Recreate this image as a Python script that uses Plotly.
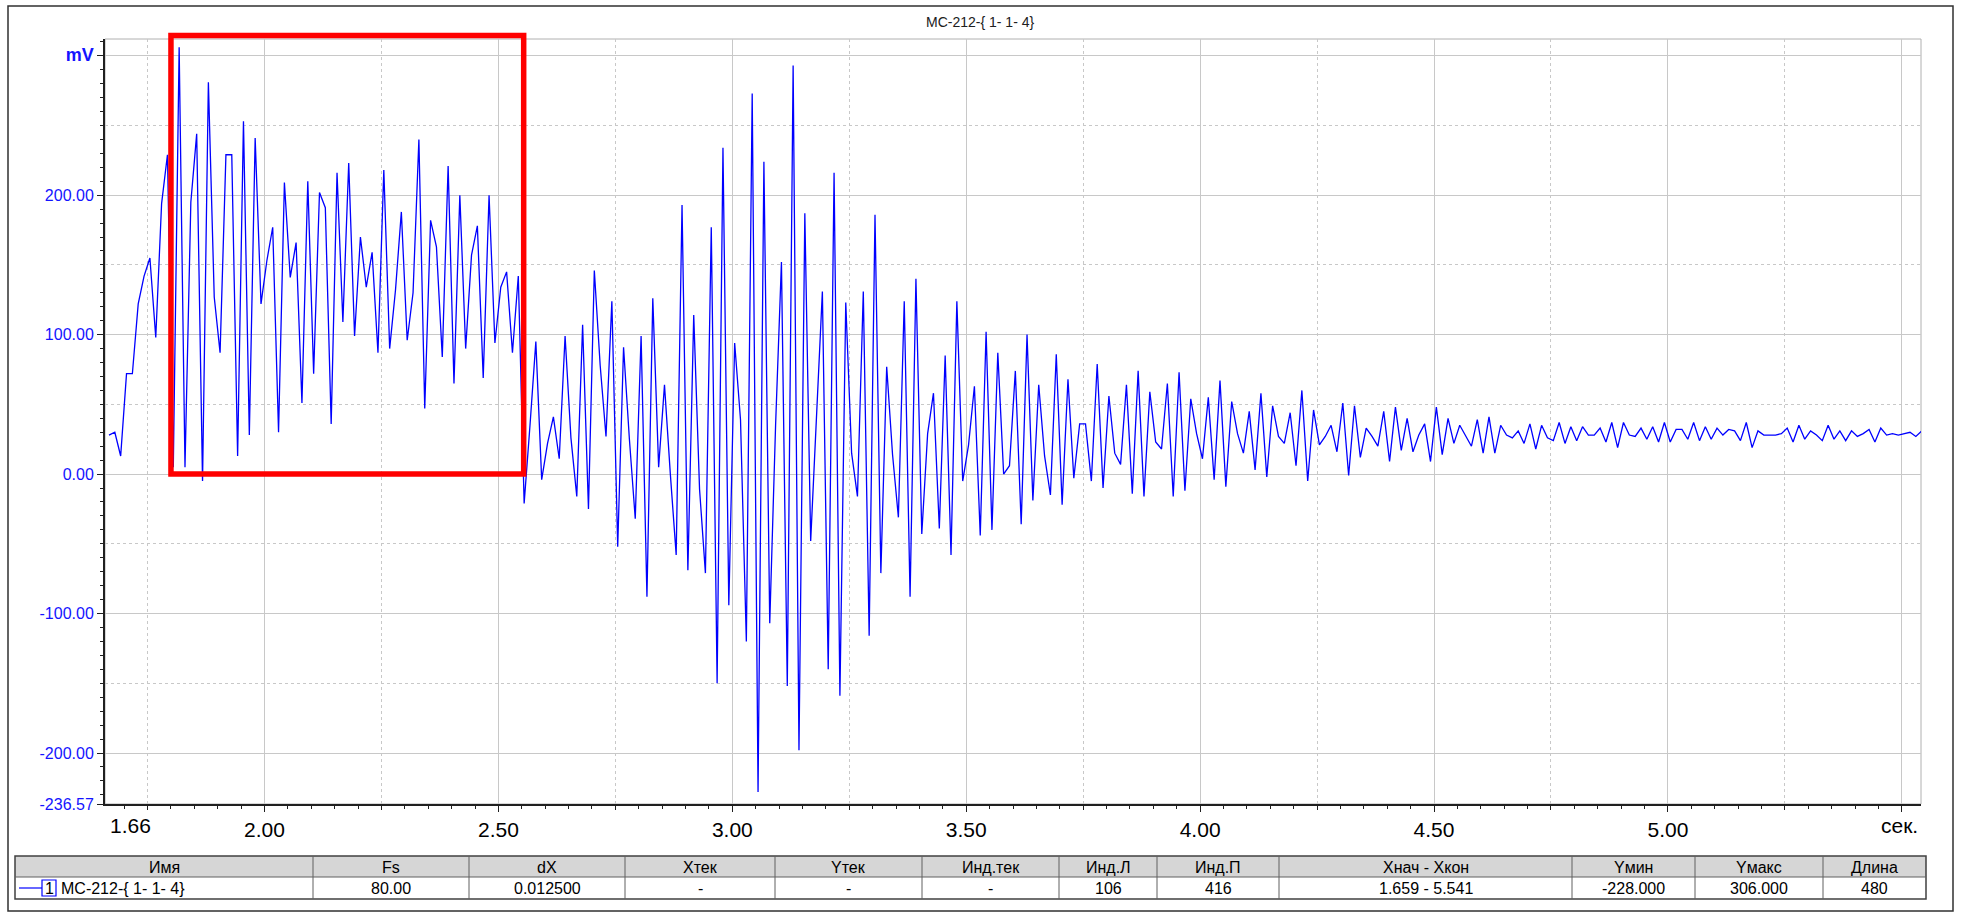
import plotly.graph_objects as go

# ---------------- data ----------------
title_text = "МС-212-{ 1- 1- 4}"
sample_rate_hz = 80.0
sample_step_s = 0.0125
first_sample_s = 1.6675

signal_mv = [
    28, 30, 13, 72, 72, 122, 142, 155, 98, 194,
    229, 5, 306, 5, 195, 244, -5, 281, 127, 87,
    229, 229, 13, 253, 28, 241, 122, 153, 177, 30,
    209, 141, 166, 51, 210, 72, 202, 191, 36, 216,
    109, 223, 99, 170, 134, 159, 87, 218, 90, 132,
    188, 96, 130, 240, 47, 182, 163, 84, 221, 65,
    200, 90, 157, 178, 69, 200, 94, 134, 145, 87,
    142, -21, 35, 95, -4, 22, 41, 11, 99, 26,
    -16, 107, -25, 146, 78, 27, 124, -52, 91, 25,
    -32, 99, -88, 126, 5, 64, 0, -58, 193, -69,
    114, -11, -71, 177, -150, 234, -94, 94, 39, -120,
    273, -228, 224, -107, 35, 152, -152, 293, -198, 187,
    -48, 42, 131, -140, 216, -159, 123, 15, -16, 131,
    -116, 186, -71, 77, 14, -31, 124, -88, 140, -43,
    29, 58, -39, 85, -58, 124, -5, 21, 63, -44,
    102, -40, 87, 0, 6, 74, -36, 100, -19, 64,
    13, -15, 86, -22, 68, -3, 36, 36, -5, 79,
    -10, 56, 15, 7, 64, -14, 74, -16, 59, 23,
    18, 65, -16, 73, -12, 54, 29, 11, 55, -4,
    67, -9, 52, 29, 15, 45, 3, 58, -2, 49,
    27, 22, 44, 6, 60, -5, 46, 21, 27, 35,
    16, 51, -1, 49, 12, 33, 27, 20, 45, 9,
    48, 17, 40, 16, 28, 36, 9, 48, 14, 40,
    22, 35, 27, 20, 39, 15, 41, 15, 35, 28,
    26, 31, 22, 36, 18, 35, 26, 24, 37, 22,
    34, 24, 34, 28, 28, 33, 23, 37, 19, 37,
    28, 27, 33, 25, 34, 23, 37, 23, 32, 32,
    25, 37, 24, 34, 25, 33, 28, 32, 31, 24,
    37, 19, 31, 28, 28, 28, 29, 33, 23, 35,
    25, 31, 28, 24, 35, 25, 31, 24, 31, 27,
    29, 32, 23, 33, 28, 29, 28, 29, 30, 27,
    31,
]
time_s = [first_sample_s + i * sample_step_s for i in range(len(signal_mv))]

x_range = [1.659, 5.541]
y_range = [-236.57, 312.0]

x_major_vals = [2.0, 2.5, 3.0, 3.5, 4.0, 4.5, 5.0, 5.5]
x_major_text = ["2.00", "2.50", "3.00", "3.50", "4.00", "4.50", "5.00", ""]
x_dash_vals = [1.75, 2.25, 2.75, 3.25, 3.75, 4.25, 4.75, 5.25]
x_first_label = "1.66"
x_unit_label = "сек."

y_major_vals = [-236.57, -200, -100, 0, 100, 200, 300]
y_major_text = ["-236.57", "-200.00", "-100.00", "0.00", "100.00", "200.00",
                "<b style='font-size:18px'>mV</b>"]
y_dash_vals = [-150, -50, 50, 150, 250]

highlight_x = [1.80, 2.554]
highlight_y = [0.0, 314.5]

table_headers = ["Имя", "Fs", "dX", "Xтек", "Yтек", "Инд.тек", "Инд.Л", "Инд.П",
                 "Xнач - Xкон", "Yмин", "Yмакс", "Длина"]
table_values = [title_text, "80.00", "0.012500", "-", "-", "-", "106", "416",
                "1.659 - 5.541", "-228.000", "306.000", "480"]

# ---------------- layout geometry (pixels) ----------------
W, H = 1961, 914
ML, MR, MT, MB = 105, 40, 39, 110
PW = W - ML - MR
PH = H - MT - MB


def px_x(p):
    return (p - ML) / PW


def px_y(p):
    return (H - MB - p) / PH


def y_paper(v):
    return (v - y_range[0]) / (y_range[1] - y_range[0])


col_edges = [15, 313, 469, 625, 775, 922, 1059, 1157, 1279, 1572, 1695, 1823, 1926]
tbl_top, tbl_mid, tbl_bot = 856, 877, 899

narrow = "Liberation Sans Narrow, Arial Narrow, Liberation Sans, Arial"
blue = "#1414FF"

fig = go.Figure()
fig.add_trace(go.Scatter(
    x=time_s, y=signal_mv, mode="lines",
    line=dict(color="#0000FF", width=1.3), hoverinfo="skip", showlegend=False,
))
# helper trace so the overlay axes get drawn
fig.add_trace(go.Scatter(x=[], y=[], xaxis="x2", yaxis="y2", showlegend=False))

grid_col = "#C8C8C8"

fig.update_layout(
    width=W, height=H,
    margin=dict(l=ML, r=MR, t=MT, b=MB, pad=0),
    paper_bgcolor="white", plot_bgcolor="white",
    showlegend=False,
    xaxis=dict(
        range=x_range, tickmode="array", tickvals=x_major_vals, ticktext=x_major_text,
        showgrid=True, gridcolor=grid_col, gridwidth=1,
        ticks="outside", ticklen=6, tickcolor="#202020", tickwidth=1,
        minor=dict(dtick=0.05, ticks="outside", ticklen=3, tickcolor="#202020", showgrid=False),
        showline=True, linecolor="#202020", linewidth=2,
        tickfont=dict(family=narrow, size=21, color="#000000"),
        zeroline=False, fixedrange=True,
    ),
    yaxis=dict(
        range=y_range, tickmode="array", tickvals=y_major_vals, ticktext=y_major_text,
        showgrid=True, gridcolor=grid_col, gridwidth=1,
        ticks="outside", ticklen=6, tickcolor="#202020", tickwidth=1,
        minor=dict(dtick=10, ticks="outside", ticklen=3, tickcolor="#202020", showgrid=False),
        showline=True, linecolor="#202020", linewidth=2,
        tickfont=dict(family="Liberation Sans, Arial", size=16, color=blue),
        zeroline=False, fixedrange=True,
    ),
    xaxis2=dict(
        range=x_range, overlaying="x", anchor="y2", side="bottom",
        tickmode="array", tickvals=x_dash_vals, showticklabels=False,
        ticks="outside", ticklen=5, tickcolor="#202020",
        showgrid=True, gridcolor=grid_col, griddash="3px,3px", gridwidth=1,
        showline=False, zeroline=False, fixedrange=True,
    ),
    yaxis2=dict(
        range=y_range, overlaying="y", anchor="x2", side="left",
        tickmode="array", tickvals=y_dash_vals, showticklabels=False,
        ticks="", showgrid=True, gridcolor=grid_col, griddash="3px,3px", gridwidth=1,
        showline=False, zeroline=False, fixedrange=True,
    ),
)

shapes = []
annotations = []

# outer frame of the whole picture
shapes.append(dict(type="rect", xref="paper", yref="paper",
                   x0=px_x(8), x1=px_x(1953), y0=px_y(911), y1=px_y(6),
                   line=dict(color="#303030", width=1.5), layer="below"))
# plot area frame (top/right)
shapes.append(dict(type="rect", xref="paper", yref="paper", x0=0, x1=1, y0=0, y1=1,
                   line=dict(color="#B0B0B0", width=1), layer="below"))

# red highlight box
shapes.append(dict(type="rect", xref="x", yref="paper",
                   x0=highlight_x[0], x1=highlight_x[1],
                   y0=y_paper(highlight_y[0]), y1=y_paper(highlight_y[1]),
                   line=dict(color="#FF0000", width=5.5), layer="above"))

# title
annotations.append(dict(text=title_text, xref="paper", yref="paper",
                        x=px_x(980), y=px_y(22), xanchor="center", yanchor="middle",
                        showarrow=False, font=dict(family="Liberation Sans, Arial", size=14, color="#202020")))

# extra x labels
annotations.append(dict(text=x_first_label, xref="paper", yref="paper",
                        x=px_x(108), y=px_y(826), xanchor="left", yanchor="middle",
                        showarrow=False, font=dict(family=narrow, size=21, color="#000000")))
annotations.append(dict(text=x_unit_label, xref="paper", yref="paper",
                        x=px_x(1920), y=px_y(826), xanchor="right", yanchor="middle",
                        showarrow=False, font=dict(family=narrow, size=21, color="#000000")))

# ---------------- table ----------------
shapes.append(dict(type="rect", xref="paper", yref="paper",
                   x0=px_x(col_edges[0]), x1=px_x(col_edges[-1]),
                   y0=px_y(tbl_mid), y1=px_y(tbl_top),
                   fillcolor="#D6D6D6", line=dict(width=0), layer="below"))
shapes.append(dict(type="rect", xref="paper", yref="paper",
                   x0=px_x(col_edges[0]), x1=px_x(col_edges[-1]),
                   y0=px_y(tbl_bot), y1=px_y(tbl_top),
                   line=dict(color="#404040", width=1.5), layer="above"))
shapes.append(dict(type="line", xref="paper", yref="paper",
                   x0=px_x(col_edges[0]), x1=px_x(col_edges[-1]),
                   y0=px_y(tbl_mid), y1=px_y(tbl_mid),
                   line=dict(color="#606060", width=1)))
for e in col_edges[1:-1]:
    shapes.append(dict(type="line", xref="paper", yref="paper",
                       x0=px_x(e), x1=px_x(e), y0=px_y(tbl_bot), y1=px_y(tbl_top),
                       line=dict(color="#606060", width=1)))

tfont = dict(family=narrow, size=16, color="#000000")
for i, (hdr, val) in enumerate(zip(table_headers, table_values)):
    cx = (col_edges[i] + col_edges[i + 1]) / 2
    annotations.append(dict(text=hdr, xref="paper", yref="paper",
                            x=px_x(cx), y=px_y((tbl_top + tbl_mid) / 2 + 0.5),
                            xanchor="center", yanchor="middle", showarrow=False, font=tfont))
    if i == 0:
        annotations.append(dict(text=val, xref="paper", yref="paper",
                                x=px_x(59), y=px_y((tbl_mid + tbl_bot) / 2 + 0.5),
                                xanchor="left", yanchor="middle", showarrow=False, font=tfont))
    else:
        annotations.append(dict(text=val, xref="paper", yref="paper",
                                x=px_x(cx), y=px_y((tbl_mid + tbl_bot) / 2 + 0.5),
                                xanchor="center", yanchor="middle", showarrow=False, font=tfont))

# legend swatch in the table row
row_c = (tbl_mid + tbl_bot) / 2
shapes.append(dict(type="line", xref="paper", yref="paper",
                   x0=px_x(19), x1=px_x(42), y0=px_y(row_c), y1=px_y(row_c),
                   line=dict(color="#0000FF", width=1.2)))
shapes.append(dict(type="rect", xref="paper", yref="paper",
                   x0=px_x(42), x1=px_x(56), y0=px_y(row_c + 8), y1=px_y(row_c - 8),
                   fillcolor="white", line=dict(color="#0000FF", width=1.2)))
annotations.append(dict(text="1", xref="paper", yref="paper",
                        x=px_x(49), y=px_y(row_c + 0.5), xanchor="center", yanchor="middle",
                        showarrow=False, font=tfont))

fig.update_layout(shapes=shapes, annotations=annotations)
fig.write_html("out.html")
